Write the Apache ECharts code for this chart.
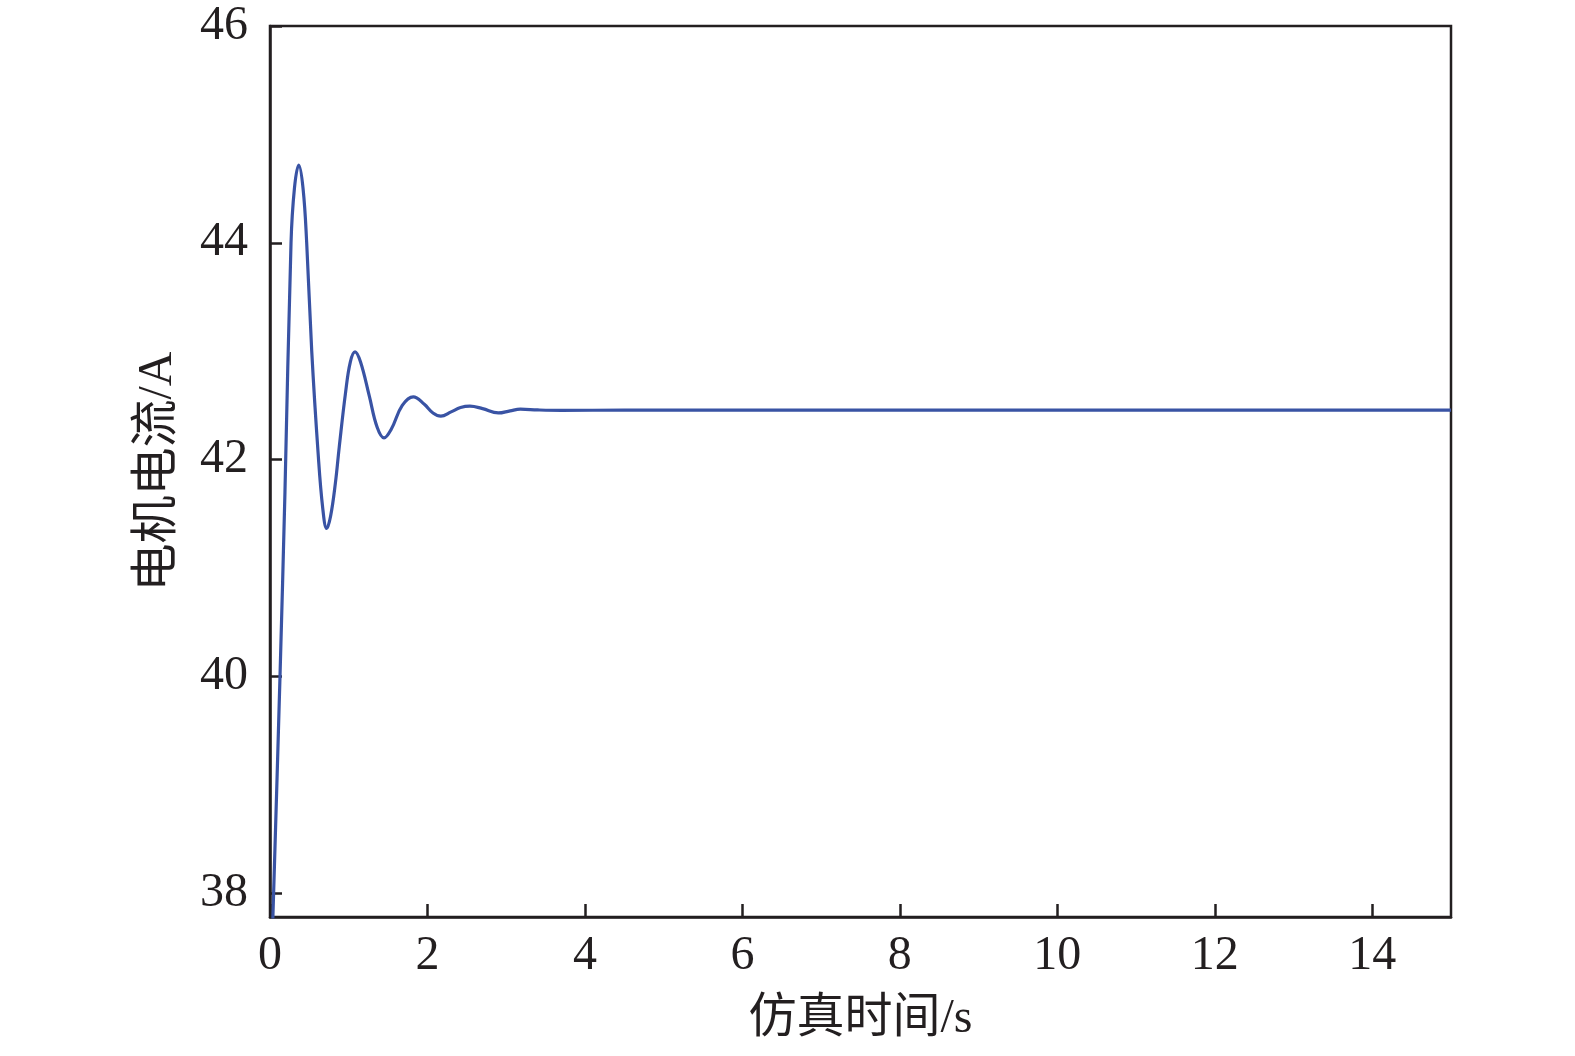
<!DOCTYPE html>
<html>
<head>
<meta charset="utf-8">
<script src="https://cdn.jsdelivr.net/npm/echarts@6/dist/echarts.min.js"></script>
<style>html,body{margin:0;padding:0;background:#fff}#c{width:1575px;height:1056px}</style>
</head>
<body>
<div id="c"></div>
<script>
const timeS = [0, 0.05, 0.127, 0.19, 0.267, 0.31, 0.365, 0.42, 0.466, 0.53, 0.61, 0.67, 0.72, 0.77, 0.83, 0.88, 0.96, 1.02, 1.08, 1.15, 1.26, 1.36, 1.448, 1.54, 1.68, 1.82, 1.96, 2.07, 2.17, 2.3, 2.42, 2.54, 2.7, 2.9, 3.05, 3.18, 3.4, 3.7, 4.5, 6, 8, 10, 12, 14, 15];
const currentA = [36.9, 38.1, 40.0, 41.7, 44.0, 44.5, 44.717, 44.5, 44.0, 43.0, 42.07, 41.55, 41.364, 41.48, 41.78, 42.12, 42.62, 42.9, 42.994, 42.9, 42.59, 42.3, 42.2, 42.28, 42.5, 42.579, 42.51, 42.43, 42.40, 42.44, 42.48, 42.493, 42.47, 42.43, 42.45, 42.465, 42.458, 42.454, 42.456, 42.456, 42.456, 42.456, 42.456, 42.456, 42.456];
const xTicks = [0, 2, 4, 6, 8, 10, 12, 14];
const yTicks = [38, 40, 42, 44, 46];

const chart = echarts.init(document.getElementById('c'));
const font = '"Liberation Serif", "Noto Sans CJK SC", serif';
const axisColor = '#231f20';
chart.setOption({
  animation: false,
  grid: {left: 270, right: 124, top: 26, bottom: 139, show: true, borderColor: axisColor, borderWidth: 2.5, backgroundColor: 'transparent'},
  xAxis: {
    type: 'value', min: 0, max: 15,
    name: '仿真时间/s', nameLocation: 'middle', nameGap: 78,
    nameTextStyle: {fontFamily: font, fontSize: 48, color: axisColor},
    axisLine: {show: true, lineStyle: {color: axisColor, width: 2.5}},
    axisTick: {show: true, inside: true, length: 13, lineStyle: {color: axisColor, width: 2.5}, customValues: xTicks},
    axisLabel: {fontFamily: font, fontSize: 48, color: axisColor, margin: 15, customValues: xTicks},
    splitLine: {show: false}
  },
  yAxis: {
    type: 'value', min: 37.78, max: 46,
    name: '电机电流/A', nameLocation: 'middle', nameGap: 88, nameRotate: 90,
    nameTextStyle: {fontFamily: font, fontSize: 48, color: axisColor},
    axisLine: {show: true, lineStyle: {color: axisColor, width: 2.5}},
    axisTick: {show: true, inside: true, length: 12, lineStyle: {color: axisColor, width: 2.5}, customValues: yTicks},
    axisLabel: {fontFamily: font, fontSize: 48, color: axisColor, margin: 22, customValues: yTicks},
    splitLine: {show: false}
  },
  series: [{
    type: 'line',
    data: timeS.map((t, i) => [t, currentA[i]]),
    smooth: 0.4,
    showSymbol: false,
    lineStyle: {color: '#3953a4', width: 3.2},
    clip: true
  }]
});
</script>
</body>
</html>
